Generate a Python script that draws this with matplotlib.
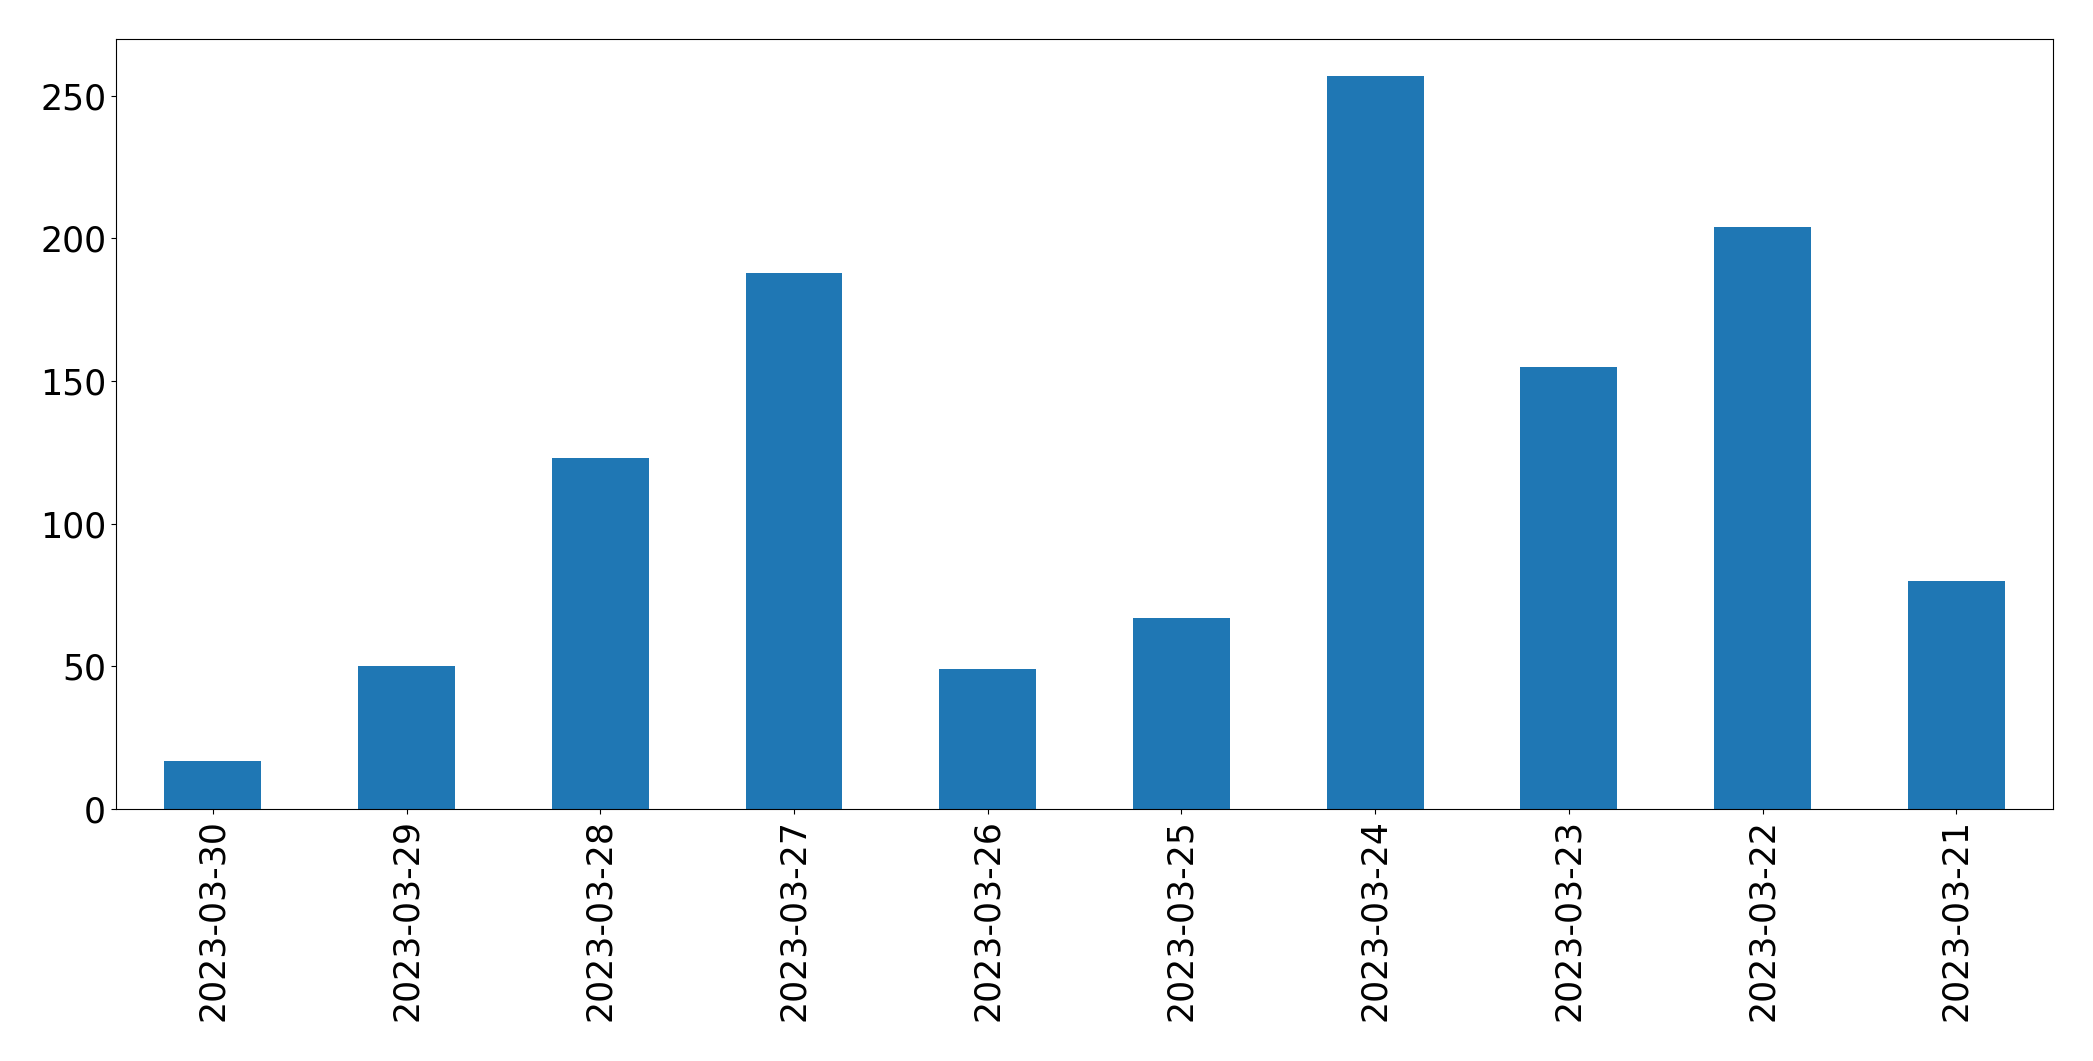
import numpy as np
import matplotlib
matplotlib.use("Agg")
import matplotlib.pyplot as plt

# daily counts, newest first (as in the reference)
dates = ["2023-03-30", "2023-03-29", "2023-03-28", "2023-03-27", "2023-03-26",
         "2023-03-25", "2023-03-24", "2023-03-23", "2023-03-22", "2023-03-21"]
counts = [17, 50, 123, 188, 49, 67, 257, 155, 204, 80]

fig, ax = plt.subplots(figsize=(20.93, 10.61), dpi=100)
fig.subplots_adjust(left=0.0554, right=0.981, top=0.9632, bottom=0.2375)

x = np.arange(len(dates))
ax.bar(x, counts, width=0.5, color="#1f77b4")
ax.set_xlim(-0.5, len(dates) - 0.5)
ax.set_ylim(0, max(counts) * 1.05)
ax.set_xticks(x)
ax.set_xticklabels(dates, rotation=90)
ax.tick_params(axis="both", labelsize=25)

plt.savefig("out.png", dpi=100)
